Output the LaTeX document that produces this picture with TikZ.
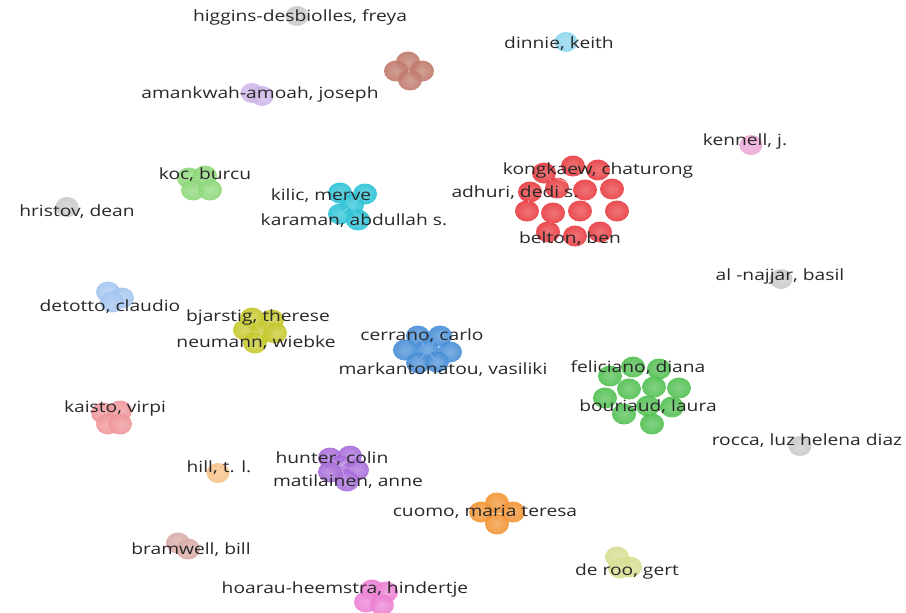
\documentclass[tikz,border=0pt]{standalone}
\usepackage{fontspec}
\newfontfamily\labfont{Open Sans}[FakeStretch=1.24]
\usetikzlibrary{shapes.geometric}
\definecolor{redc}{RGB}{232,62,66}
\definecolor{greenc}{RGB}{82,192,82}
\definecolor{bluec}{RGB}{72,142,215}
\definecolor{yellowc}{RGB}{198,200,45}
\definecolor{purplec}{RGB}{168,110,218}
\definecolor{cyanc}{RGB}{45,195,215}
\definecolor{orangec}{RGB}{242,148,52}
\definecolor{brownc}{RGB}{192,122,108}
\definecolor{pinkc}{RGB}{236,128,212}
\definecolor{lgreenc}{RGB}{142,216,122}
\definecolor{lbluec}{RGB}{165,198,240}
\definecolor{lpinkc}{RGB}{240,150,155}
\definecolor{greyc}{RGB}{200,200,200}
\definecolor{lcyanc}{RGB}{135,212,236}
\definecolor{lavc}{RGB}{204,180,232}
\definecolor{ygc}{RGB}{216,222,145}
\definecolor{rosec}{RGB}{218,172,168}
\definecolor{kpinkc}{RGB}{236,165,212}
\definecolor{hillc}{RGB}{246,190,130}
\definecolor{txtc}{RGB}{40,40,40}
\tikzset{
  blob/.style={ellipse, minimum width=24pt, minimum height=21pt, inner sep=0pt, inner color=#1!78!white, outer color=#1, fill opacity=0.92, draw=none},
  sblob/.style={ellipse, minimum width=23pt, minimum height=20pt, inner sep=0pt, inner color=#1!80!white, outer color=#1, fill opacity=0.88, draw=none},
  lab/.style={text=txtc, inner sep=0pt, font=\labfont\fontsize{15.5}{18}\selectfont},
  lnk/.style={white, opacity=0.45, line width=0.8pt}
}
\begin{document}
\begin{tikzpicture}[x=1pt,y=-1pt]
\useasboundingbox (0,0) rectangle (906,613);
% singles
\node[sblob=greyc] (hig) at (297,16) {};
\node[sblob=lcyanc] (din) at (566,42) {};
\node[sblob=lavc] (ama1) at (252,93) {};
\node[sblob=lavc] (ama2) at (262,96) {};
\node[sblob=kpinkc] (ken) at (751,145) {};
\node[sblob=greyc] (hri) at (67,207) {};
\node[sblob=greyc] (naj) at (781,279) {};
\node[sblob=greyc] (roc) at (800,446) {};
\node[sblob=hillc] (hil) at (218,473) {};
% brown
\node[blob=brownc] (br1) at (408,62) {};
\node[blob=brownc] (br2) at (396,71) {};
\node[blob=brownc] (br3) at (422,71) {};
\node[blob=brownc] (br4) at (410,80) {};
% koc
\node[blob=lgreenc] (k1) at (189,178) {};
\node[blob=lgreenc] (k2) at (205,176) {};
\node[blob=lgreenc] (k3) at (193,190) {};
\node[blob=lgreenc] (k4) at (210,190) {};
% cyan
\node[blob=cyanc] (c1) at (340,193) {};
\node[blob=cyanc] (c2) at (365,194) {};
\node[blob=cyanc] (c3) at (352,205) {};
\node[blob=cyanc] (c4) at (340,214) {};
\node[blob=cyanc] (c5) at (358,220) {};
% red
\node[blob=redc] (r1) at (573,166) {};
\node[blob=redc] (r2) at (544,173) {};
\node[blob=redc] (r3) at (598,170) {};
\node[blob=redc] (r4) at (612,189) {};
\node[blob=redc] (r5) at (585,190) {};
\node[blob=redc] (r6) at (557,188) {};
\node[blob=redc] (r7) at (530,192) {};
\node[blob=redc] (r8) at (527,211) {};
\node[blob=redc] (r9) at (553,213) {};
\node[blob=redc] (r10) at (580,211) {};
\node[blob=redc] (r11) at (617,211) {};
\node[blob=redc] (r12) at (548,232) {};
\node[blob=redc] (r13) at (575,236) {};
\node[blob=redc] (r14) at (600,232) {};
% detotto
\node[blob=lbluec] (d1) at (108,292) {};
\node[blob=lbluec] (d2) at (122,298) {};
\node[blob=lbluec] (d3) at (112,302) {};
% yellow
\node[blob=yellowc] (y1) at (252,318) {};
\node[blob=yellowc] (y2) at (272,320) {};
\node[blob=yellowc] (y3) at (245,330) {};
\node[blob=yellowc] (y4) at (262,333) {};
\node[blob=yellowc] (y5) at (275,333) {};
\node[blob=yellowc] (y6) at (255,343) {};
% blue
\node[blob=bluec] (b1) at (418,336) {};
\node[blob=bluec] (b2) at (440,336) {};
\node[blob=bluec] (b3) at (405,350) {};
\node[blob=bluec] (b4) at (427,350) {};
\node[blob=bluec] (b5) at (450,352) {};
\node[blob=bluec] (b6) at (418,363) {};
\node[blob=bluec] (b7) at (437,362) {};
% green
\node[blob=greenc] (g1) at (610,376) {};
\node[blob=greenc] (g2) at (633,367) {};
\node[blob=greenc] (g3) at (659,369) {};
\node[blob=greenc] (g4) at (629,389) {};
\node[blob=greenc] (g5) at (654,387) {};
\node[blob=greenc] (g6) at (679,388) {};
\node[blob=greenc] (g7) at (605,398) {};
\node[blob=greenc] (g8) at (624,414) {};
\node[blob=greenc] (g9) at (648,406) {};
\node[blob=greenc] (g10) at (672,407) {};
\node[blob=greenc] (g11) at (652,424) {};
% kaisto
\node[blob=lpinkc] (ka1) at (103,413) {};
\node[blob=lpinkc] (ka2) at (120,411) {};
\node[blob=lpinkc] (ka3) at (108,424) {};
\node[blob=lpinkc] (ka4) at (120,424) {};
% purple
\node[blob=purplec] (p1) at (330,458) {};
\node[blob=purplec] (p2) at (350,456) {};
\node[blob=purplec] (p6) at (340,466) {};
\node[blob=purplec] (p3) at (357,470) {};
\node[blob=purplec] (p4) at (330,472) {};
\node[blob=purplec] (p5) at (347,481) {};
% orange
\node[blob=orangec] (o1) at (497,503) {};
\node[blob=orangec] (o2) at (481,512) {};
\node[blob=orangec] (o3) at (513,512) {};
\node[blob=orangec] (o4) at (497,524) {};
% bramwell
\node[blob=rosec] (bw1) at (178,543) {};
\node[blob=rosec] (bw2) at (188,549) {};
% de roo
\node[blob=ygc] (dr1) at (617,557) {};
\node[blob=ygc] (dr2) at (630,567) {};
\node[blob=ygc] (dr3) at (620,568) {};
% hoarau
\node[blob=pinkc] (h1) at (372,590) {};
\node[blob=pinkc] (h2) at (386,592) {};
\node[blob=pinkc] (h3) at (366,602) {};
\node[blob=pinkc] (h4) at (382,605) {};
% links
\foreach \a/\b in {r1/r2,r1/r3,r1/r6,r1/r5,r2/r7,r2/r6,r3/r4,r3/r5,r4/r11,r4/r10,r5/r10,r6/r9,r7/r8,r8/r9,r9/r12,r9/r13,r10/r13,r10/r14,r11/r14,r12/r13,r13/r14,r6/r10,r5/r9,r2/r5}
  \draw[lnk] (\a) -- (\b);
\foreach \a/\b in {g1/g2,g2/g3,g1/g4,g2/g5,g3/g6,g4/g5,g5/g6,g7/g8,g8/g9,g9/g10,g9/g11,g4/g9,g5/g10,g7/g4}
  \draw[lnk, opacity=0.3] (\a) -- (\b);
\foreach \a/\b in {b1/b4,b2/b4,b3/b4,b4/b5,b4/b6,b4/b7,c1/c3,c2/c3,c3/c4,c3/c5,p1/p6,p2/p6,p6/p3,p6/p4,p6/p5,br1/br4,br2/br3,y1/y4,y2/y4,y3/y4,y4/y6}
  \draw[lnk, opacity=0.3] (\a) -- (\b);
% labels
\begin{scope}[yshift=-1.5pt]
\node[lab] (Lhig) at (300,16) {higgins-desbiolles, freya};
\node[lab] (Ldin) at (559,42) {dinnie, keith};
\node[lab] (Lama) at (260,93) {amankwah-amoah, joseph};
\node[lab] (Lken) at (745,140) {kennell, j.};
\node[lab] (Lkoc) at (205,173) {koc, burcu};
\node[lab] (Lkil) at (321,194) {kilic, merve};
\node[lab] (Lkar) at (354,219) {karaman, abdullah s.};
\node[lab] (Lhri) at (77,210) {hristov, dean};
\node[lab] (Lkon) at (598,169) {kongkaew, chaturong};
\node[lab] (Ladh) at (515,191) {adhuri, dedi s.};
\node[lab] (Lbel) at (570,237) {belton, ben};
\node[lab] (Lnaj) at (780,275) {al -najjar, basil};
\node[lab] (Ldet) at (110,305) {detotto, claudio};
\node[lab] (Lbja) at (258,316) {bjarstig, therese};
\node[lab] (Lneu) at (256,341) {neumann, wiebke};
\node[lab] (Lcer) at (422,334) {cerrano, carlo};
\node[lab] (Lmar) at (443,368) {markantonatou, vasiliki};
\node[lab] (Lfel) at (638,366) {feliciano, diana};
\node[lab] (Lbou) at (648,405) {bouriaud, laura};
\node[lab] (Lkai) at (115,407) {kaisto, virpi};
\node[lab] (Lroc) at (807,439) {rocca, luz helena diaz};
\node[lab] (Lhil) at (219,466) {hill, t. l.};
\node[lab] (Lhun) at (332,457) {hunter, colin};
\node[lab] (Lmat) at (348,480) {matilainen, anne};
\node[lab] (Lcuo) at (485,510) {cuomo, maria teresa};
\node[lab] (Lbra) at (191,548) {bramwell, bill};
\node[lab] (Lder) at (627,570) {de roo, gert};
\node[lab] (Lhoa) at (345,588) {hoarau-heemstra, hindertje};
\end{scope}
\end{tikzpicture}
\end{document}
